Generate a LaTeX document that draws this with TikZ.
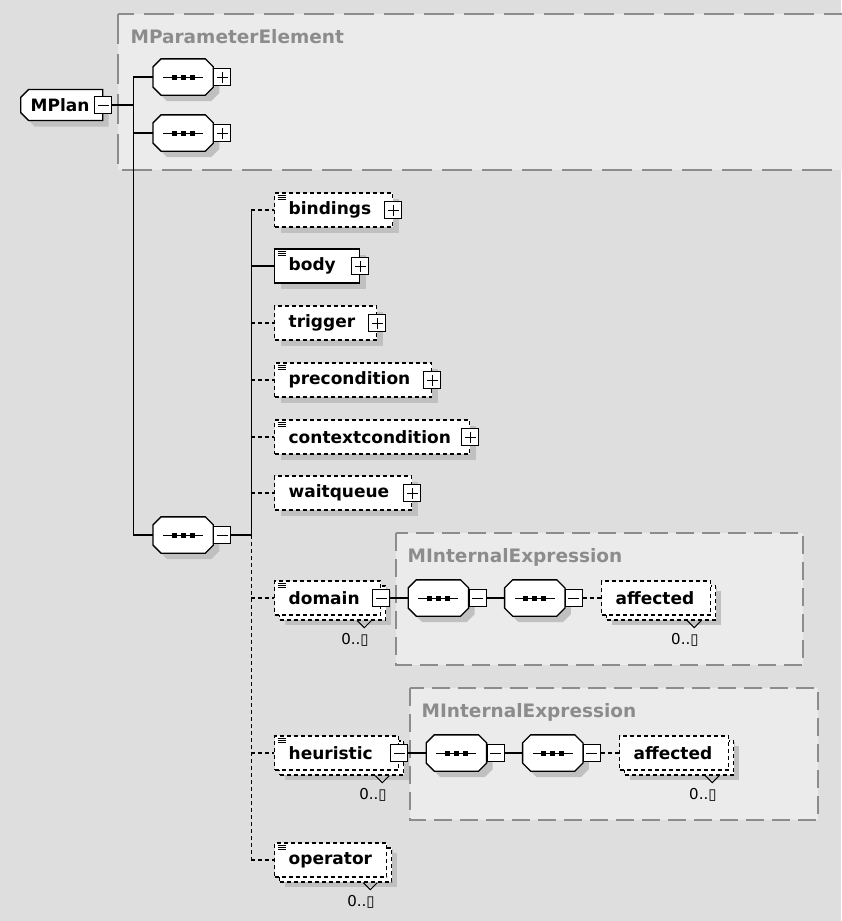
\documentclass[tikz,border=0pt]{standalone}
\usepackage{fontspec}
\setmainfont{DejaVu Sans}
\usetikzlibrary{positioning,shapes.misc,shadows}

\definecolor{canvasgray}{RGB}{222,222,222}
\definecolor{groupfill}{RGB}{235,235,235}
\definecolor{groupline}{RGB}{140,140,140}
\definecolor{shadowgray}{RGB}{192,192,192}

\newcommand{\elemfont}{\fontsize{17}{20}\selectfont\bfseries}
\newcommand{\grpfont}{\fontsize{18.5}{21}\selectfont\bfseries}
\newcommand{\occfont}{\fontsize{15}{18}\selectfont}

% octagon for the sequence compositors
\makeatletter
\pgfdeclareshape{seqshape}{
  \inheritsavedanchors[from=rectangle]
  \inheritanchorborder[from=rectangle]
  \inheritanchor[from=rectangle]{center}
  \inheritanchor[from=rectangle]{north}
  \inheritanchor[from=rectangle]{south}
  \inheritanchor[from=rectangle]{east}
  \inheritanchor[from=rectangle]{west}
  \inheritanchor[from=rectangle]{north east}
  \inheritanchor[from=rectangle]{north west}
  \inheritanchor[from=rectangle]{south east}
  \inheritanchor[from=rectangle]{south west}
  \backgroundpath{
    \southwest \edef\seqL{\the\pgf@x}\edef\seqB{\the\pgf@y}
    \northeast \edef\seqR{\the\pgf@x}\edef\seqT{\the\pgf@y}
    \pgfpathmoveto{\pgfpoint{\seqL+8pt}{\seqB}}
    \pgfpathlineto{\pgfpoint{\seqR-8pt}{\seqB}}
    \pgfpathlineto{\pgfpoint{\seqR}{\seqB+8pt}}
    \pgfpathlineto{\pgfpoint{\seqR}{\seqT-8pt}}
    \pgfpathlineto{\pgfpoint{\seqR-8pt}{\seqT}}
    \pgfpathlineto{\pgfpoint{\seqL+8pt}{\seqT}}
    \pgfpathlineto{\pgfpoint{\seqL}{\seqT-8pt}}
    \pgfpathlineto{\pgfpoint{\seqL}{\seqB+8pt}}
    \pgfpathclose
  }
}
\makeatother

\begin{document}
\begin{tikzpicture}[
x=1pt, y=-1pt,
line width=1.3pt,
shd/.style={drop shadow={shadow xshift=#1, shadow yshift=-#1, fill=shadowgray, opacity=1}},
shd/.default=6pt,
elem/.style={draw, fill=white, shd, minimum height=34pt, inner xsep=14pt, inner ysep=0pt, text width=#1, align=left, anchor=west, font=\elemfont},
opt/.style={dash pattern=on 4pt off 3pt},
cplx/.style={path picture={\foreach \k in {2.5pt,4.7pt,6.9pt} \draw[solid, line width=.9pt] ([shift={(3pt,-\k)}]path picture bounding box.north west) -- ++(8pt,0pt);}},
multi/.style={shd=10pt, preaction={draw=black, fill=white, line width=1.3pt, dash pattern=on 4pt off 3pt, transform canvas={shift={(5pt,-5pt)}}}},
tgl/.style={draw, fill=white, solid, line width=1pt, minimum size=17pt, inner sep=0pt},
expandbox/.style={tgl, path picture={\draw[line width=1pt] ([xshift=-5.5pt]path picture bounding box.center) -- ([xshift=5.5pt]path picture bounding box.center) ([yshift=-5.5pt]path picture bounding box.center) -- ([yshift=5.5pt]path picture bounding box.center);}},
collapsebox/.style={tgl, path picture={\draw[line width=1pt] ([xshift=-5.5pt]path picture bounding box.center) -- ([xshift=5.5pt]path picture bounding box.center);}},
seq/.style={seqshape, draw, fill=white, shd, minimum width=59pt, minimum height=35pt, inner sep=0pt, anchor=west,
  path picture={
    \coordinate (pc) at (path picture bounding box.center);
    \draw[line width=1pt] ([xshift=-20pt]pc) -- ([xshift=20pt]pc);
    \foreach \d in {-11.5pt,-2.5pt,6.5pt} \fill[black] ([shift={(\d,-2.5pt)}]pc) rectangle ++(5pt,5pt);
  }},
group/.style={fill=groupfill, draw=groupline, line width=1.5pt},
grplabel/.style={text=groupline, font=\grpfont, inner sep=0pt, anchor=west},
occ/.style={font=\occfont, inner sep=0pt, anchor=east},
conn/.style={line width=1.3pt}
]
\fill[canvasgray] (0,0) rectangle (841,921);
\useasboundingbox (0,0) rectangle (841,921);

% groups
\filldraw[group, dash pattern=on 30pt off 10pt] (118,14) rectangle (850,170);
\filldraw[group, dash pattern=on 18pt off 8pt] (396,533) rectangle (803,665);
\filldraw[group, dash pattern=on 18pt off 8pt] (410,688) rectangle (818,820);
\node[grplabel] (paramlbl) at (130,37) {MParameterElement};
\node[grplabel] (domainlbl) at (407,557) {MInternalExpression};
\node[grplabel] (heurlbl) at (421,712) {MInternalExpression};

% root
\node[draw, fill=white, shd, chamfered rectangle, chamfered rectangle corners={north west,south west}, chamfered rectangle sep=4pt,
  minimum width=80pt, minimum height=31pt, inner xsep=6pt, inner ysep=0pt, text width=62pt, align=left, anchor=west, font=\elemfont] (plan) at (20,105) {MPlan};
\node[collapsebox] (planT) at (plan.east) {};

% sequences
\node[seq] (seq1) at (153,77) {};
\node[expandbox, anchor=west] (seq1T) at (seq1.east) {};
\node[seq] (seq2) at (153,133) {};
\node[expandbox, anchor=west] (seq2T) at (seq2.east) {};
\node[seq] (seq3) at (153,535) {};
\node[collapsebox, anchor=west] (seq3T) at (seq3.east) {};

\coordinate (trunk) at ([xshift=21pt]planT.east);
\draw[conn] (planT.east) -- (trunk);
\foreach \s in {seq1,seq2,seq3} \draw[conn] (trunk) |- (\s.west);

% elements
\node[elem=90pt, opt, cplx] (bindings) at (274,210) {bindings};
\node[elem=57pt, cplx] (body) at (274,266) {body};
\node[elem=74pt, opt] (trigger) at (274,323) {trigger};
\node[elem=129pt, opt, cplx] (precondition) at (274,380) {precondition};
\node[elem=167pt, opt, cplx] (contextcondition) at (274,437) {contextcondition};
\node[elem=109pt, opt] (waitqueue) at (274,493) {waitqueue};
\node[elem=78pt, opt, cplx, multi] (domain) at (274,598) {domain};
\node[elem=96pt, opt, cplx, multi] (heuristic) at (274,753) {heuristic};
\node[elem=84pt, opt, cplx, multi] (operator) at (274,860) {operator};

\foreach \e in {bindings,body,trigger,precondition,contextcondition,waitqueue}
  \node[expandbox] (\e T) at (\e.east) {};
\foreach \e in {domain,heuristic}
  \node[collapsebox] (\e T) at (\e.east) {};

\coordinate (bus) at ([xshift=20pt]seq3T.east);
\draw[conn] (seq3T.east) -- (bus);
\draw[conn] (bus) -- (bus |- bindings.west);
\draw[conn, opt] (bus) -- (bus |- operator.west);
\draw[conn] (bus |- body.west) -- (body.west);
\foreach \e in {bindings,trigger,precondition,contextcondition,waitqueue,domain,heuristic,operator}
  \draw[conn, opt] (bus |- \e.west) -- (\e.west);

% internal expressions
\foreach \p in {domain,heuristic}{
  \node[seq, right=18pt of \p T] (\p seqA) {};
  \node[collapsebox, anchor=west] (\p seqAT) at (\p seqA.east) {};
  \node[seq, right=18pt of \p seqAT] (\p seqB) {};
  \node[collapsebox, anchor=west] (\p seqBT) at (\p seqB.east) {};
  \node[elem=81pt, opt, multi, right=18pt of \p seqBT] (\p aff) {affected};
  \draw[conn] (\p T.east) -- (\p seqA.west);
  \draw[conn] (\p seqAT.east) -- (\p seqB.west);
  \draw[conn, opt] (\p seqBT.east) -- (\p aff.west);
}

% occurrences
\foreach \e in {domain,heuristic,operator,domainaff,heuristicaff}{
  \draw[line width=1pt] ([shift={(-24pt,-5pt)}]\e.south east) -- ++(7pt,-7pt) -- ++(7pt,7pt);
  \node[occ] (\e N) at ([shift={(-12pt,-24pt)}]\e.south east) {0..\char"25AF};
}
\end{tikzpicture}
\end{document}
